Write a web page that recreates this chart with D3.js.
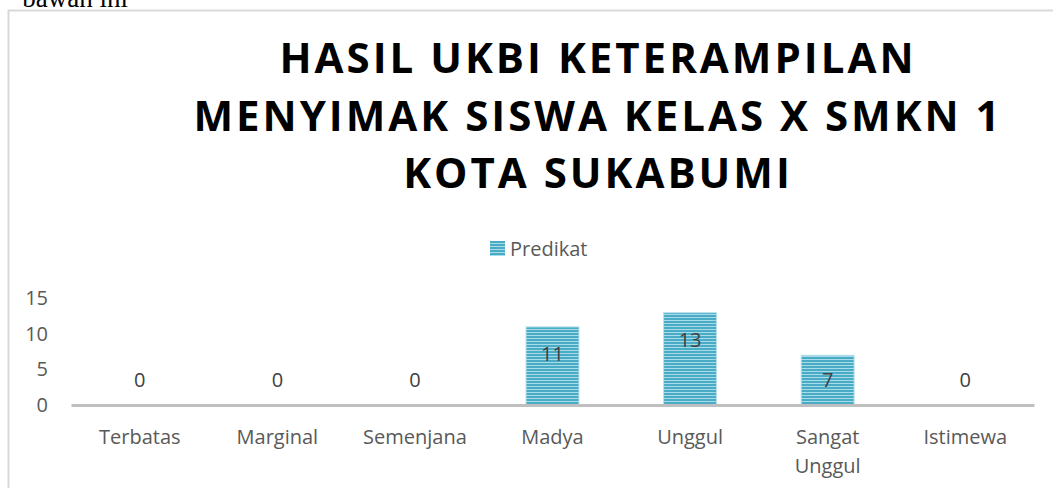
<!DOCTYPE html>
<html>
<head>
<meta charset="utf-8">
<script src="https://cdn.jsdelivr.net/npm/d3@7"></script>
<style>
  html, body { margin: 0; padding: 0; background: #fff; }
  svg { display: block; }
</style>
</head>
<body>
<svg id="chart"></svg>
<script>
    // chart data
    var categories = ['Terbatas', 'Marginal', 'Semenjana', 'Madya', 'Unggul', 'Sangat Unggul', 'Istimewa'];
    var values = [0, 0, 0, 11, 13, 7, 0];
    var yTicks = [0, 5, 10, 15];
    var seriesName = 'Predikat';
    var titleLines = ['HASIL UKBI KETERAMPILAN', 'MENYIMAK SISWA KELAS X SMKN 1', 'KOTA SUKABUMI'];

    var width = 1053;
    var height = 488;
    var textColor = '#595959';

    var svg = d3.select('#chart')
        .attr('width', width)
        .attr('height', height);

    // stripes for the bars
    var defs = svg.append('defs');
    var pat = defs.append('pattern')
        .attr('id', 'stripes')
        .attr('patternUnits', 'userSpaceOnUse')
        .attr('width', 6)
        .attr('height', 3);
    pat.append('rect').attr('width', 6).attr('height', 3).attr('fill', '#a8dbe8');
    pat.append('rect').attr('width', 6).attr('height', 2).attr('fill', '#4aabc7');

    // cut-off document text above the chart
    svg.append('text')
        .attr('x', 128)
        .attr('y', 7)
        .attr('text-anchor', 'end')
        .style('font-family', '"Liberation Serif", serif')
        .style('font-size', '27px')
        .attr('fill', '#000')
        .text('bawah ini');

    // chart frame
    svg.append('rect')
        .attr('x', 8.5)
        .attr('y', 10.5)
        .attr('width', 1100)
        .attr('height', 600)
        .attr('fill', 'none')
        .attr('stroke', '#d9d9d9')
        .attr('stroke-width', 2);

    // title
    svg.append('g').selectAll('text')
        .data(titleLines)
        .join('text')
        .attr('x', 598)
        .attr('y', function(d, i) { return 73 + i * 57.5; })
        .attr('text-anchor', 'middle')
        .attr('letter-spacing', 3)
        .style('font-family', '"Open Sans", sans-serif')
        .style('font-weight', 'bold')
        .style('font-size', '42px')
        .attr('fill', '#000')
        .text(function(d) { return d; });

    // legend
    var legend = svg.append('g').attr('transform', 'translate(490,241)');
    legend.append('rect')
        .attr('width', 15)
        .attr('height', 15)
        .attr('fill', 'url(#stripes)');
    legend.append('text')
        .attr('x', 20)
        .attr('y', 8)
        .attr('dy', '0.35em')
        .style('font-family', '"Open Sans", sans-serif')
        .style('font-size', '20px')
        .attr('fill', textColor)
        .text(seriesName);

    // scales
    var x = d3.scaleBand()
        .domain(categories)
        .range([71, 1034])
        .paddingInner(0.615)
        .paddingOuter(0.3075);

    var y = d3.scaleLinear()
        .domain([0, 15])
        .range([405, 298.5]);

    // y axis labels
    var yAxis = svg.append('g')
        .attr('transform', 'translate(48,0)')
        .call(d3.axisLeft(y).tickValues(yTicks).tickSize(0).tickPadding(0));
    yAxis.select('.domain').remove();
    yAxis.selectAll('text')
        .style('font-family', '"Open Sans", sans-serif')
        .style('font-size', '20px')
        .attr('fill', textColor);

    // bars
    svg.append('g').selectAll('rect')
        .data(values)
        .join('rect')
        .attr('x', function(d, i) { return x(categories[i]); })
        .attr('y', function(d) { return y(d); })
        .attr('width', x.bandwidth())
        .attr('height', function(d) { return y(0) - y(d); })
        .attr('fill', 'url(#stripes)')
        .attr('stroke', '#b9e1ec')
        .attr('stroke-width', 1);

    // x axis line + category labels
    var xAxis = svg.append('g')
        .attr('transform', 'translate(0,' + y(0) + ')')
        .call(d3.axisBottom(x).tickSize(0).tickPadding(0));
    xAxis.select('.domain')
        .attr('stroke', '#bfbfbf')
        .attr('stroke-width', 3);
    xAxis.selectAll('.tick text').remove();
    xAxis.selectAll('.tick').each(function(d) {
        var words = d === 'Sangat Unggul' ? ['Sangat', 'Unggul'] : [d];
        var t = d3.select(this).append('text')
            .attr('text-anchor', 'middle')
            .style('font-family', '"Open Sans", sans-serif')
            .style('font-size', '20px')
            .attr('fill', textColor);
        words.forEach(function(word, j) {
            t.append('tspan')
                .attr('x', 0)
                .attr('y', 32 + j * 29)
                .attr('dy', '0.35em')
                .text(word);
        });
    });

    // data labels
    svg.append('g').selectAll('text')
        .data(values)
        .join('text')
        .attr('x', function(d, i) { return x(categories[i]) + x.bandwidth() / 2; })
        .attr('y', function(d) { return Math.min(y(d) + 27, 380); })
        .attr('dy', '0.35em')
        .attr('text-anchor', 'middle')
        .style('font-family', '"Open Sans", sans-serif')
        .style('font-size', '20px')
        .attr('fill', '#404040')
        .text(function(d) { return d; });
</script>
</body>
</html>
